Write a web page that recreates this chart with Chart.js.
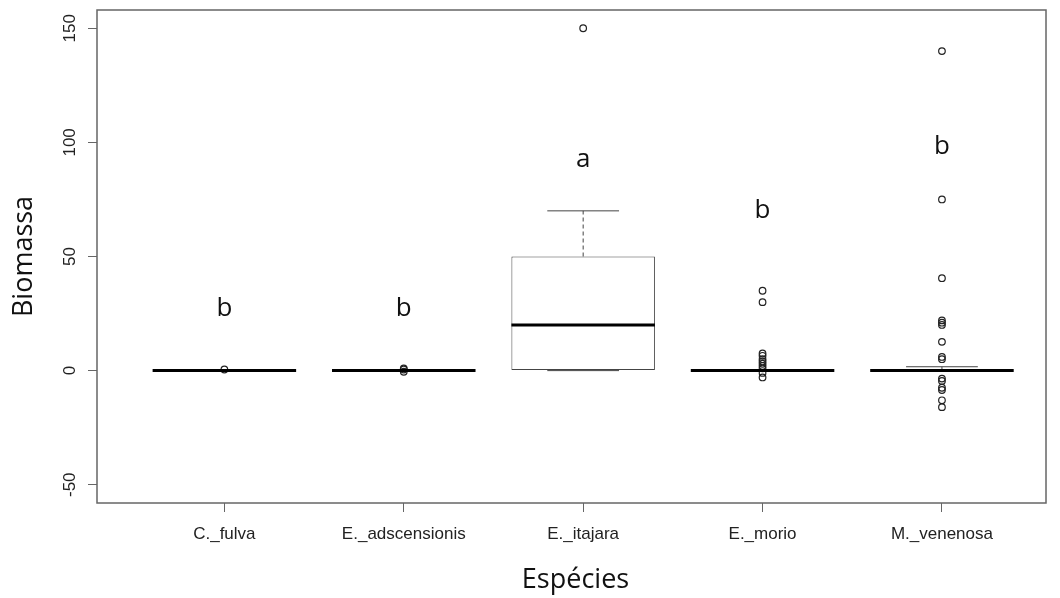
<!DOCTYPE html>
<html>
<head>
<meta charset="utf-8">
<script src="https://cdn.jsdelivr.net/npm/chart.js@4.4.1/dist/chart.umd.min.js"></script>
<style>
html,body{margin:0;padding:0;background:#fff;}
#wrap{width:1060px;height:598px;}
</style>
</head>
<body>
<div id="wrap"><canvas id="c" width="1060" height="598"></canvas></div>
<script>
const categories = ['C._fulva', 'E._adscensionis', 'E._itajara', 'E._morio', 'M._venenosa'];
const q1 = [0, 0, 0, 0, 0];
const medians = [0, 0, 20, 0, 0];
const q3 = [0, 0, 50, 0, 0];
const whiskerLow = [0, 0, 0, 0, 0];
const whiskerHigh = [0, 0, 70, 0, 1.7];
const outliers = [
  [0.5],
  [1, 0.5, -0.5],
  [150],
  [35, 30, 7.5, 6.5, 5, 4, 3, 2, 1, -1, -3],
  [140, 75, 40.5, 22, 21, 20, 12.6, 6, 5, -3.5, -4.5, -7.5, -8.5, -13, -16]
];
const groupLetters = ['b', 'b', 'a', 'b', 'b'];
const letterY = [27, 27, 92.5, 70, 98];
const yTicks = [-50, 0, 50, 100, 150];

const boxData = categories.map((c, i) => ({x: i + 1, y: [q1[i], q3[i]]}));
const outlierData = [];
outliers.forEach((arr, i) => arr.forEach(v => outlierData.push({x: i + 1, y: v})));

const TXT = '#222';
const FRAME = '#666';

const boxPlugin = {
  id: 'boxExtras',
  beforeDraw(chart) {
    const ctx = chart.ctx;
    ctx.save();
    ctx.fillStyle = '#fff';
    ctx.fillRect(0, 0, chart.width, chart.height);
    ctx.restore();
  },
  afterDatasetDraw(chart, args) {
    if (args.index !== 0) return;
    const ctx = chart.ctx;
    const xs = chart.scales.x, ys = chart.scales.y;
    const meta = chart.getDatasetMeta(0);
    ctx.save();
    categories.forEach((c, i) => {
      const bar = meta.data[i];
      const w = bar.width;
      const cx = xs.getPixelForValue(i + 1);
      const left = cx - w / 2, right = cx + w / 2;
      ctx.strokeStyle = '#444';
      ctx.lineWidth = 1;
      ctx.setLineDash([4, 3]);
      ctx.beginPath();
      if (whiskerHigh[i] > q3[i]) {
        ctx.moveTo(cx, ys.getPixelForValue(q3[i]));
        ctx.lineTo(cx, ys.getPixelForValue(whiskerHigh[i]));
      }
      if (whiskerLow[i] < q1[i]) {
        ctx.moveTo(cx, ys.getPixelForValue(q1[i]));
        ctx.lineTo(cx, ys.getPixelForValue(whiskerLow[i]));
      }
      ctx.stroke();
      ctx.setLineDash([]);
      ctx.beginPath();
      [whiskerHigh[i], whiskerLow[i]].forEach(v => {
        const py = ys.getPixelForValue(v);
        ctx.moveTo(cx - w / 4, py);
        ctx.lineTo(cx + w / 4, py);
      });
      ctx.stroke();
      ctx.strokeStyle = '#000';
      ctx.lineWidth = 3;
      ctx.beginPath();
      const my = ys.getPixelForValue(medians[i]);
      ctx.moveTo(left, my);
      ctx.lineTo(right, my);
      ctx.stroke();
    });
    ctx.restore();
  },
  afterDraw(chart) {
    const ctx = chart.ctx;
    const xs = chart.scales.x, ys = chart.scales.y;
    const a = chart.chartArea;
    ctx.save();
    ctx.strokeStyle = FRAME;
    ctx.lineWidth = 1.5;
    ctx.strokeRect(a.left, a.top, a.right - a.left, a.bottom - a.top);
    ctx.fillStyle = '#111';
    ctx.font = '26px "Open Sans"';
    ctx.textAlign = 'center';
    ctx.textBaseline = 'middle';
    groupLetters.forEach((l, i) => {
      ctx.fillText(l, xs.getPixelForValue(i + 1), ys.getPixelForValue(letterY[i]));
    });
    ctx.fillStyle = TXT;
    ctx.font = '17px "Liberation Sans"';
    yTicks.forEach(v => {
      const py = ys.getPixelForValue(v);
      ctx.save();
      ctx.translate(70, py);
      ctx.rotate(-Math.PI / 2);
      ctx.textAlign = 'center';
      ctx.textBaseline = 'middle';
      ctx.fillText(String(v), 0, 0);
      ctx.restore();
    });
    ctx.fillStyle = '#111';
    ctx.font = '27px "Open Sans"';
    ctx.save();
    ctx.translate(24, (a.top + a.bottom) / 2);
    ctx.rotate(-Math.PI / 2);
    ctx.textAlign = 'center';
    ctx.textBaseline = 'middle';
    ctx.fillText('Biomassa', 0, 0);
    ctx.restore();
    ctx.textAlign = 'center';
    ctx.textBaseline = 'middle';
    ctx.fillText('Espécies', (a.left + a.right) / 2 + 4, 580);
    ctx.restore();
  }
};

new Chart(document.getElementById('c'), {
  type: 'bar',
  data: {
    datasets: [
      {
        type: 'bar',
        data: boxData,
        backgroundColor: '#fff',
        borderColor: '#444',
        borderWidth: 1,
        borderSkipped: false,
        categoryPercentage: 1.0,
        barPercentage: 0.8
      },
      {
        type: 'scatter',
        data: outlierData,
        pointStyle: 'circle',
        pointRadius: 3.3,
        pointBorderWidth: 1.2,
        pointBackgroundColor: 'rgba(0,0,0,0)',
        pointBorderColor: '#222',
        showLine: false
      }
    ]
  },
  plugins: [boxPlugin],
  options: {
    responsive: false,
    animation: false,
    events: [],
    layout: {padding: {left: 0, right: 14, top: 10, bottom: 0}},
    plugins: {legend: {display: false}, tooltip: {enabled: false}},
    scales: {
      x: {
        type: 'linear',
        offset: false,
        min: 0.29,
        max: 5.58,
        afterFit(s) { s.height = 95; },
        afterBuildTicks(s) { s.ticks = categories.map((c, i) => ({value: i + 1})); },
        ticks: {
          autoSkip: false,
          maxRotation: 0,
          minRotation: 0,
          color: TXT,
          font: {family: 'Liberation Sans', size: 17},
          padding: 12,
          callback: (v) => categories[v - 1] || ''
        },
        grid: {offset: false, drawOnChartArea: false, drawTicks: true, tickLength: 9, color: FRAME, lineWidth: 1},
        border: {display: false}
      },
      y: {
        type: 'linear',
        min: -58,
        max: 158,
        afterFit(s) { s.width = 97; },
        afterBuildTicks(s) { s.ticks = yTicks.map(v => ({value: v})); },
        ticks: {display: false},
        grid: {offset: false, drawOnChartArea: false, drawTicks: true, tickLength: 9, color: FRAME, lineWidth: 1},
        border: {display: false}
      }
    }
  }
});
</script>
</body>
</html>
